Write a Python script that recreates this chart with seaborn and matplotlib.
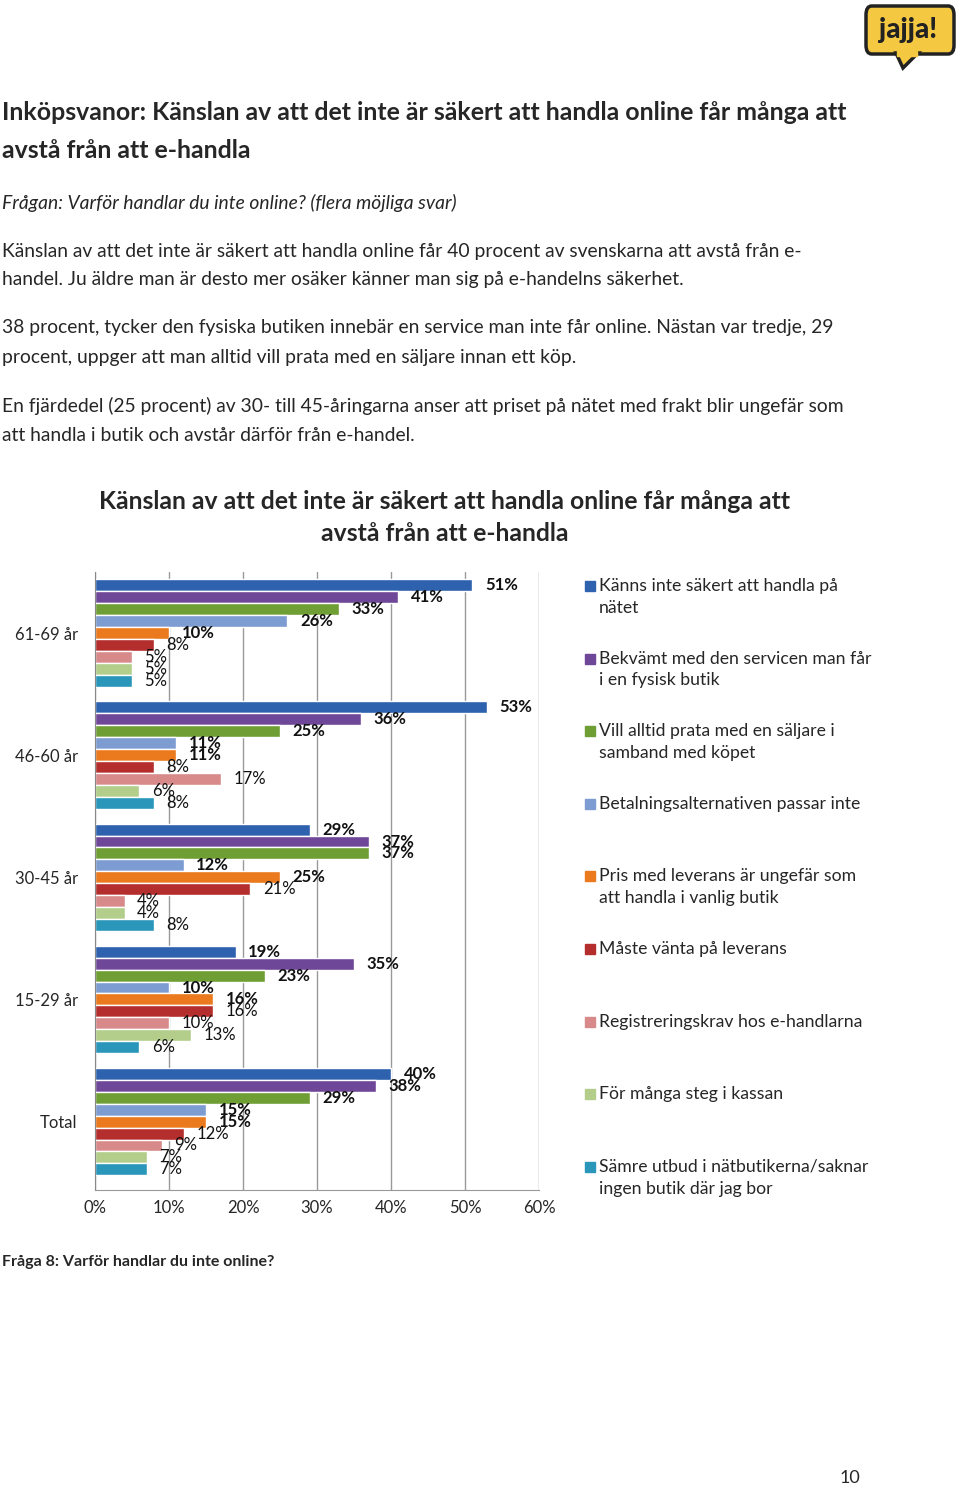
import numpy as np
import pandas as pd
import matplotlib.pyplot as plt
import seaborn as sns
from matplotlib.patches import FancyBboxPatch, Polygon, Rectangle

sns.set_style("white")
plt.rcParams["font.family"] = ["Lato", "DejaVu Sans"]

# Data
groups = ["61-69 år", "46-60 år", "30-45 år", "15-29 år", "Total"]
answers = [
    "Känns inte säkert att handla på\nnätet",
    "Bekvämt med den servicen man får\ni en fysisk butik",
    "Vill alltid prata med en säljare i\nsamband med köpet",
    "Betalningsalternativen passar inte",
    "Pris med leverans är ungefär som\natt handla i vanlig butik",
    "Måste vänta på leverans",
    "Registreringskrav hos e-handlarna",
    "För många steg i kassan",
    "Sämre utbud i nätbutikerna/saknar\ningen butik där jag bor",
]
v_6169 = [51, 41, 33, 26, 10, 8, 5, 5, 5]
v_4660 = [53, 36, 25, 11, 11, 8, 17, 6, 8]
v_3045 = [29, 37, 37, 12, 25, 21, 4, 4, 8]
v_1529 = [19, 35, 23, 10, 16, 16, 10, 13, 6]
v_total = [40, 38, 29, 15, 15, 12, 9, 7, 7]
colors = ["#2E62AE", "#6F4799", "#6F9E35", "#7D9CD2", "#EB7A1E",
          "#B32E2C", "#D88A8A", "#B3CE8B", "#2A97BA"]

values = [v_6169, v_4660, v_3045, v_1529, v_total]
rows = []
for g, vals in zip(groups, values):
    for a, v in zip(answers, vals):
        rows.append({"Grupp": g, "Svar": a, "Andel": v})
df = pd.DataFrame(rows)

W, H = 960, 1486
fig = plt.figure(figsize=(W / 100, H / 100), dpi=100)


def fx(px):
    return px / W


def fy(px):
    return 1 - px / H


# Page text
fig.text(fx(2), fy(113), "Inköpsvanor: Känslan av att det inte är säkert att handla online får många att",
         fontsize=17.9, fontweight="bold", va="center")
fig.text(fx(2), fy(150), "avstå från att e-handla", fontsize=17.9, fontweight="bold", va="center")
fig.text(fx(2), fy(203), "Frågan: Varför handlar du inte online? (flera möjliga svar)",
         fontsize=13.9, fontstyle="italic", va="center")
body = [
    (251, "Känslan av att det inte är säkert att handla online får 40 procent av svenskarna att avstå från e-"),
    (280, "handel. Ju äldre man är desto mer osäker känner man sig på e-handelns säkerhet."),
    (328, "38 procent, tycker den fysiska butiken innebär en service man inte får online. Nästan var tredje, 29"),
    (357, "procent, uppger att man alltid vill prata med en säljare innan ett köp."),
    (406, "En fjärdedel (25 procent) av 30- till 45-åringarna anser att priset på nätet med frakt blir ungefär som"),
    (435, "att handla i butik och avstår därför från e-handel."),
]
for y, t in body:
    fig.text(fx(2), fy(y), t, fontsize=13.9, va="center")

fig.text(fx(445), fy(501), "Känslan av att det inte är säkert att handla online får många att",
         fontsize=17.8, fontweight="bold", ha="center", va="center")
fig.text(fx(445), fy(534), "avstå från att e-handla",
         fontsize=17.8, fontweight="bold", ha="center", va="center")

# Chart
ax = fig.add_axes([fx(95), fy(1190), fx(539 - 95), (1190 - 572) / H])
sns.barplot(data=df, y="Grupp", x="Andel", hue="Svar", order=groups, hue_order=answers,
            palette=colors, orient="h", width=0.88, saturation=1, legend=False, ax=ax)

for i, cont in enumerate(ax.containers):
    ax.bar_label(cont, fmt="%d%%", padding=9, fontsize=12,
                 fontweight="bold" if i < 5 else "normal", color="#111111")

ax.set_xlim(0, 60)
ax.set_ylim(4.56, -0.5)
ax.set_xticks(np.arange(0, 61, 10))
ax.set_xticklabels([f"{t}%" for t in range(0, 61, 10)], fontsize=12)
ax.tick_params(axis="x", length=0, pad=7)
ax.tick_params(axis="y", length=0, pad=12.5, labelsize=12)
ax.set_xlabel("")
ax.set_ylabel("")
ax.xaxis.grid(True, color="#999999", lw=1)
ax.set_axisbelow(True)
for s in ["top", "right"]:
    ax.spines[s].set_visible(False)
ax.spines["left"].set_color("#888888")
ax.spines["bottom"].set_color("#999999")

# Legend
for i, (a, c) in enumerate(zip(answers, colors)):
    yc = 586 + i * 72.6
    fig.add_artist(Rectangle((fx(585), fy(yc + 5)), fx(10), 10 / H, color=c,
                             transform=fig.transFigure))
    fig.text(fx(599), fy(yc - 8), a, fontsize=12.7, va="top", linespacing=1.45)

fig.text(fx(2), fy(1262), "Fråga 8: Varför handlar du inte online?", fontsize=11.5,
         fontweight="bold", va="center")
fig.text(fx(840), fy(1478), "10", fontsize=13, va="center")

# Logo
fig.add_artist(FancyBboxPatch((fx(866), fy(54)), fx(88), 48 / H,
                              boxstyle="round,pad=0,rounding_size=0.006",
                              fc="#F5C842", ec="#222222", lw=2.5, transform=fig.transFigure))
fig.add_artist(Polygon([(fx(896), fy(53)), (fx(918), fy(53)), (fx(903), fy(68))],
                       closed=True, fc="#F5C842", ec="#222222", lw=2.5,
                       transform=fig.transFigure))
fig.add_artist(Rectangle((fx(897), fy(56)), fx(20), 5 / H, color="#F5C842",
                         transform=fig.transFigure))
fig.text(fx(908), fy(30), "jajja!", fontsize=20, fontweight="black", ha="center",
         va="center", color="#222222")

fig.savefig("out.png", dpi=100)
